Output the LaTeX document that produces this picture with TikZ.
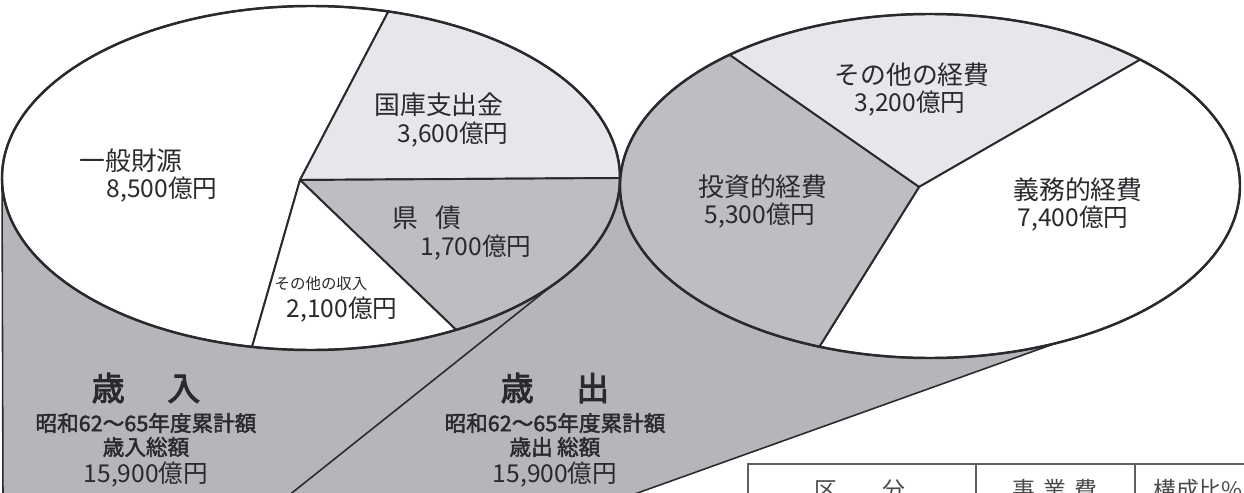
\documentclass[tikz,border=0pt]{standalone}
\usepackage{fontspec}
\setmainfont{Noto Sans CJK JP}
\newfontfamily\heavy[FakeBold=3]{Noto Sans CJK JP}
\newfontfamily\semi[FakeBold=2]{Noto Sans CJK JP}
\usetikzlibrary{calc}
\definecolor{extr}{RGB}{180,182,185}
\definecolor{mid}{RGB}{188,190,193}
\definecolor{light}{RGB}{229,231,234}
\definecolor{ink}{RGB}{42,42,46}
\tikzset{
  wedge/.style={draw=ink, line width=1.1pt, line join=round},
  rim/.style={draw=ink, line width=1.4pt},
  edge/.style={draw=ink, line width=0.9pt},
  tab/.style={draw=ink!75, line width=0.7pt},
  sname/.style={inner sep=0pt, text=ink, font=\fontsize{14.7}{16}\selectfont},
  amount/.style={inner sep=0pt, text=ink, font=\fontsize{14}{16}\selectfont},
  tiny/.style={inner sep=0pt, text=ink, font=\fontsize{8.8}{10}\selectfont},
  big/.style={inner sep=0pt, text=ink, font=\heavy\fontsize{18.7}{20}\selectfont},
  sub/.style={inner sep=0pt, text=ink, font=\semi\fontsize{12.3}{14}\selectfont},
  head/.style={inner sep=0pt, text=ink!85, font=\fontsize{13}{15}\selectfont}
}
\begin{document}
\begin{tikzpicture}[x=0.02cm,y=-0.02cm]
\useasboundingbox (0,0) rectangle (1244,493);
\clip (0,0) rectangle (1244,493);
\coordinate (cL) at (311,178);
        \coordinate (pL) at (300,180);
        \coordinate (cR) at (930,186);
        \coordinate (pR) at (919,187);
\coordinate (L0) at ($(cL)+(180:309 and 172)$);
\coordinate (L1) at ($(cL)+(-75.5:309 and 172)$);
\coordinate (L2) at ($(cL)+(0:309 and 172)$);
\coordinate (L3) at ($(cL)+(62:309 and 172)$);
\coordinate (L4) at ($(cL)+(101:309 and 172)$);
\coordinate (T1) at ($(cL)+(31:309 and 172)$);
\coordinate (R0) at ($(cR)+(180:310 and 172)$);
\coordinate (R1) at ($(cR)+(229.7:310 and 172)$);
\coordinate (R2) at ($(cR)+(312.7:310 and 172)$);
\coordinate (R3) at ($(cR)+(110.9:310 and 172)$);
\coordinate (T2) at ($(cR)+(66:310 and 172)$);
\coordinate (B0) at (3,500);
\coordinate (B1) at (283,500);
\coordinate (B2) at (618,500);

\fill[extr] (cR) -- (R0) -- (B1) -- (B2) -- (T2) -- cycle;
\fill[extr] (cL) -- (L0) -- (B0) -- (B1) -- (T1) -- cycle;
\draw[edge] (L0) -- (B0)
        (T1) -- (B1)
        (T2) -- (B2);

\filldraw[wedge, fill=white] (pL) -- (L4) arc[start angle=101, end angle=284.5, x radius=309, y radius=172] -- cycle;
\filldraw[wedge, fill=light] (pL) -- (L1) arc[start angle=-75.5, end angle=0, x radius=309, y radius=172] -- cycle;
\filldraw[wedge, fill=mid] (pL) -- (L2) arc[start angle=0, end angle=62, x radius=309, y radius=172] -- cycle;
\filldraw[wedge, fill=white] (pL) -- (L3) arc[start angle=62, end angle=101, x radius=309, y radius=172] -- cycle;
\draw[rim] (cL) ellipse[x radius=309, y radius=172];

\filldraw[wedge, fill=light] (pR) -- (R1) arc[start angle=229.7, end angle=312.7, x radius=310, y radius=172] -- cycle;
\filldraw[wedge, fill=white] (pR) -- (R2) arc[start angle=312.7, end angle=470.9, x radius=310, y radius=172] -- cycle;
\filldraw[wedge, fill=mid] (pR) -- (R3) arc[start angle=110.9, end angle=229.7, x radius=310, y radius=172] -- cycle;
\draw[rim] (cR) ellipse[x radius=310, y radius=172];

\node[sname] (ippan) at (131,161) {一般財源};
\node[amount] (ippanv) at (162,190) {8,500億円};
\node[sname] (kokko) at (439,105) {国庫支出金};
\node[amount] (kokkov) at (453,135) {3,600億円};
\node[sname] (kensai) at (427,218) {県\hspace{.65em}債};
\node[amount] (kensaiv) at (476,248) {1,700億円};
\node[tiny] (sonota) at (321,284) {その他の収入};
\node[amount] (sonotav) at (342,310) {2,100億円};

\node[sname] (keihi) at (912,75) {その他の経費};
\node[amount] (keihiv) at (910,104) {3,200億円};
\node[sname] (toshi) at (763,187) {投資的経費};
\node[amount] (toshiv) at (760,216) {5,300億円};
\node[sname] (gimu) at (1078,190) {義務的経費};
\node[amount] (gimuv) at (1073,219) {7,400億円};

\node[big] (sainyu) at (146,388) {歳\hspace{1.3em}入};
\node[sub] (nyuterm) at (146,423) {昭和62〜65年度累計額};
\node[sub] (nyutot) at (146,447) {歳入総額};
\node[amount] (nyuval) at (146,475) {15,900億円};
\node[big] (saishutsu) at (555,388) {歳\hspace{1.3em}出};
\node[sub] (shutsuterm) at (555,423) {昭和62〜65年度累計額};
\node[sub] (shutsutot) at (555,447) {歳出\hspace{.2em}総額};
\node[amount] (shutsuval) at (555,475) {15,900億円};

\coordinate (tabA) at (748,464);
\coordinate (tabB) at (976,464);
\coordinate (tabC) at (1135,464);
\draw[tab] (tabA |- 0,500) -- (tabA) -- (1250,464);
\draw[tab] (tabB) -- (tabB |- 0,500)
        (tabC) -- (tabC |- 0,500);
\node[head] (kubun) at (860,490) {区\hspace{2em}分};
\node[head] (jigyo) at (1055,490) {事\hspace{.35em}業\hspace{.35em}費};
\node[head] (kosei) at (1198,490) {構成比\%};
\end{tikzpicture}
\end{document}
